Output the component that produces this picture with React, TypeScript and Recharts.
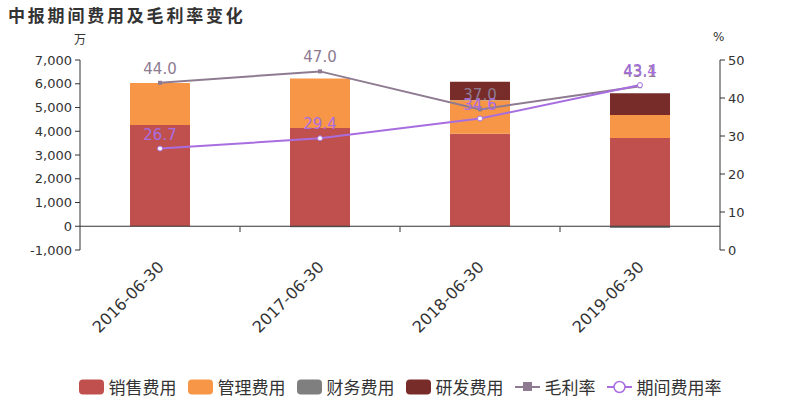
import { ComposedChart, Bar, Line, XAxis, YAxis, ReferenceLine, LabelList } from 'recharts';

const periods = ['2016-06-30', '2017-06-30', '2018-06-30', '2019-06-30'];
const salesCost = [4260, 4140, 3900, 3715];
const adminCost = [1770, 2080, 1410, 970];
const financeCost = [5, -45, 10, -70];
const rdCost = [0, 0, 760, 915];
const grossMargin = [44.0, 47.0, 37.0, 43.1];
const expenseRate = [26.7, 29.4, 34.6, 43.4];
const leftTicks = [-1000, 0, 1000, 2000, 3000, 4000, 5000, 6000, 7000];
const rightTicks = [0, 10, 20, 30, 40, 50];

const data = periods.map((p, i) => ({
  period: p,
  sales: salesCost[i],
  admin: adminCost[i],
  finance: financeCost[i],
  rd: rdCost[i],
  margin: grossMargin[i],
  rate: expenseRate[i],
}));

const FONT = '"DejaVu Sans", "Noto Sans CJK SC", sans-serif';
const TEXT = '#333';

const colors = {
  sales: '#c0504d',
  admin: '#f79646',
  finance: '#7f7f7f',
  rd: '#772c2a',
  margin: '#8e7b91',
  rate: '#a86ee0',
};

const XTick = (props: any) => {
  const { x, y, payload, index } = props;
  return (
    <g>
      {index < periods.length - 1 && (
        <line x1={x + 80} x2={x + 80} y1={y - 31} y2={y - 26} stroke={TEXT} strokeWidth={1} />
      )}
      <text
        x={x + 5}
        y={y + 10}
        textAnchor="end"
        fontSize={16}
        fill={TEXT}
        fontFamily={FONT}
        transform={`rotate(-45, ${x + 5}, ${y + 10})`}
      >
        {payload.value}
      </text>
    </g>
  );
};

const SquareDot = (props: any) => {
  const { cx, cy } = props;
  return <rect x={cx - 2} y={cy - 2} width={4} height={4} fill={colors.margin} />;
};

const legendItems = [
  { name: '销售费用', color: colors.sales, type: 'rect' },
  { name: '管理费用', color: colors.admin, type: 'rect' },
  { name: '财务费用', color: colors.finance, type: 'rect' },
  { name: '研发费用', color: colors.rd, type: 'rect' },
  { name: '毛利率', color: colors.margin, type: 'square' },
  { name: '期间费用率', color: colors.rate, type: 'circle' },
];

function LegendBox() {
  return (
    <div
      style={{
        position: 'absolute',
        left: 0,
        width: 800,
        top: 374,
        display: 'flex',
        justifyContent: 'center',
        gap: 11,
        fontFamily: FONT,
        fontSize: 17,
        color: TEXT,
      }}
    >
      {legendItems.map((it) => (
        <div key={it.name} style={{ display: 'flex', alignItems: 'center', gap: 5 }}>
          <svg width={25} height={16}>
            {it.type === 'rect' && <rect x={0} y={0.5} width={25} height={15} rx={4} fill={it.color} />}
            {it.type === 'square' && (
              <g>
                <line x1={0} x2={25} y1={8} y2={8} stroke={it.color} strokeWidth={2} />
                <rect x={8} y={3} width={9} height={9} fill={it.color} />
              </g>
            )}
            {it.type === 'circle' && (
              <g>
                <line x1={0} x2={25} y1={8} y2={8} stroke={it.color} strokeWidth={2} />
                <circle cx={12.5} cy={8} r={5.5} fill="#fff" stroke={it.color} strokeWidth={1.5} />
              </g>
            )}
          </svg>
          <span>{it.name}</span>
        </div>
      ))}
    </div>
  );
}

export default function App() {
  return (
    <div style={{ position: 'absolute', left: 0, top: 0, width: 800, height: 400, background: '#fff' }}>
      <div
        style={{
          position: 'absolute',
          left: 8,
          top: 2,
          fontFamily: FONT,
          fontSize: 17,
          fontWeight: 'bold',
          letterSpacing: 2.8,
          color: TEXT,
        }}
      >
        中报期间费用及毛利率变化
      </div>
      <div style={{ position: 'absolute', left: 74, top: 30, fontFamily: FONT, fontSize: 12, color: TEXT }}>万</div>
      <div style={{ position: 'absolute', left: 713, top: 30, fontFamily: FONT, fontSize: 12, color: TEXT }}>%</div>
      <ComposedChart
        width={800}
        height={400}
        data={data}
        stackOffset="sign"
        margin={{ top: 60, right: 0, bottom: 0, left: 0 }}
      >
        <XAxis
          dataKey="period"
          xAxisId={0}
          height={150}
          axisLine={false}
          tickLine={false}
          tick={<XTick />}
          interval={0}
        />
        <YAxis
          yAxisId="left"
          width={80}
          domain={[-1000, 7000]}
          ticks={leftTicks}
          interval={0}
          tickFormatter={(v: number) => v.toLocaleString('en-US')}
          tick={{ fontSize: 13, fill: TEXT, fontFamily: FONT }}
          axisLine={{ stroke: TEXT }}
          tickLine={{ stroke: TEXT }}
          tickSize={5}
          tickMargin={3}
        />
        <YAxis
          yAxisId="right"
          orientation="right"
          width={80}
          domain={[0, 50]}
          ticks={rightTicks}
          interval={0}
          tick={{ fontSize: 13, fill: TEXT, fontFamily: FONT }}
          axisLine={{ stroke: TEXT }}
          tickLine={{ stroke: TEXT }}
          tickSize={5}
          tickMargin={3}
        />
        <ReferenceLine yAxisId="left" y={0} stroke={TEXT} strokeWidth={1} />
        <Bar yAxisId="left" dataKey="sales" name="销售费用" stackId="a" fill={colors.sales} barSize={60} isAnimationActive={false} />
        <Bar yAxisId="left" dataKey="admin" name="管理费用" stackId="a" fill={colors.admin} barSize={60} isAnimationActive={false} />
        <Bar yAxisId="left" dataKey="finance" name="财务费用" stackId="a" fill={colors.finance} barSize={60} isAnimationActive={false} />
        <Bar yAxisId="left" dataKey="rd" name="研发费用" stackId="a" fill={colors.rd} barSize={60} isAnimationActive={false} />
        <Line
          yAxisId="right"
          dataKey="margin"
          name="毛利率"
          stroke={colors.margin}
          strokeWidth={2}
          dot={<SquareDot />}
          isAnimationActive={false}
        >
          <LabelList dataKey="margin" position="top" offset={9} fill={colors.margin} fontSize={15} fontFamily={FONT} formatter={(v: any) => Number(v).toFixed(1)} />
        </Line>
        <Line
          yAxisId="right"
          dataKey="rate"
          name="期间费用率"
          stroke={colors.rate}
          strokeWidth={2}
          dot={{ r: 2.5, fill: '#fff', stroke: colors.rate, strokeWidth: 1 }}
          isAnimationActive={false}
        >
          <LabelList dataKey="rate" position="top" offset={9} fill={colors.rate} fontSize={15} fontFamily={FONT} formatter={(v: any) => Number(v).toFixed(1)} />
        </Line>
      </ComposedChart>
      <LegendBox />
    </div>
  );
}
